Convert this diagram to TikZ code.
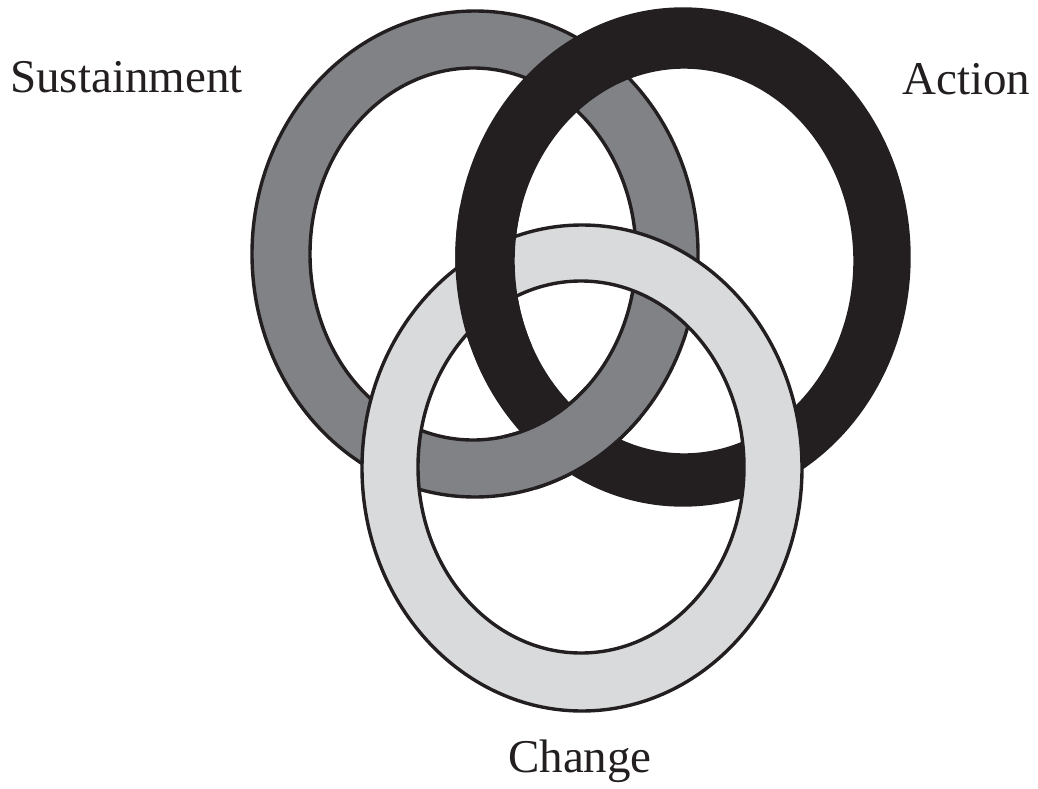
\documentclass[tikz,border=0pt]{standalone}
\usepackage{fontspec}
\setmainfont{Liberation Serif}
\definecolor{ringgray}{RGB}{128,130,133}
\definecolor{ringblack}{RGB}{35,31,32}
\definecolor{ringlight}{RGB}{217,218,220}
\begin{document}
\begin{tikzpicture}[x=1pt,y=-1pt,
  outl/.style={draw=ringblack,line width=3.4pt},
  lbl/.style={anchor=base west,inner sep=0pt,font=\fontsize{47}{56}\selectfont,text=ringblack}]
\useasboundingbox (0,0) rectangle (1038,789);
% ring drawing macros
\newcommand{\drawgray}{%
  \fill[ringgray,even odd rule] (475,254) ellipse (223 and 243) (473,254) ellipse (163 and 186);
  \draw[outl] (475,254) ellipse (223 and 243);
  \draw[outl] (473,254) ellipse (163 and 186);}
\newcommand{\drawblack}{%
  \fill[ringblack,even odd rule] (683,257) ellipse (226 and 248) (684,261) ellipse (171 and 194);
  \draw[outl] (683,257) ellipse (226 and 248);
  \draw[outl] (684,261) ellipse (171 and 194);}
\newcommand{\drawlight}{%
  \fill[ringlight,even odd rule] (582,468) ellipse (220 and 243) (581,467) ellipse (163 and 186);
  \draw[outl] (582,468) ellipse (220 and 243);
  \draw[outl] (581,467) ellipse (163 and 186);}
% layers
\drawgray
\drawblack
\drawlight
% black over light (upper left crossing)
\begin{scope}
  \clip (430,205) rectangle (548,345);
  \drawblack
\end{scope}
% gray over black (lower crossing)
\begin{scope}
  \clip (575,442) ellipse (72 and 56);
  \drawgray
\end{scope}
% labels
\node[lbl] (sus) at (10,93) {Sustainment};
\node[lbl] (act) at (902,95) {Action};
\node[lbl] (chg) at (508,772) {Change};
\end{tikzpicture}
\end{document}
